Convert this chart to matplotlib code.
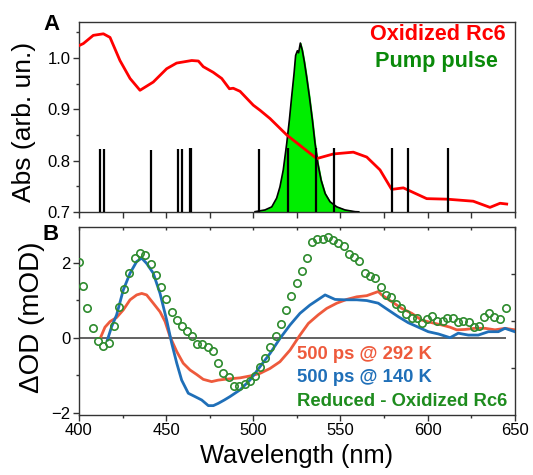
import numpy as np
import matplotlib
matplotlib.use("Agg")
import matplotlib.pyplot as plt
from matplotlib.ticker import MultipleLocator, FixedLocator

plt.rcParams['font.family'] = ['Liberation Sans', 'DejaVu Sans']

# ---------------- Panel A data ----------------
abs_wl = [400, 402.5, 408.2, 414, 417.8, 423.5, 429.3, 435, 442.6, 450.3, 456, 464.7,
          468.5, 471.3, 477, 481.9, 486.3, 488.5, 492.4, 500, 503.9, 509.6, 519.2,
          536.4, 545.9, 557.4, 565.1, 572.7, 579.4, 586.1, 591.8, 599.5, 611, 626.2,
          635.8, 641.6, 645.4]
abs_val = [1.024, 1.028, 1.044, 1.047, 1.040, 0.995, 0.960, 0.937, 0.953, 0.979, 0.990,
           0.995, 0.994, 0.983, 0.972, 0.960, 0.940, 0.941, 0.935, 0.908, 0.898, 0.882,
           0.850, 0.804, 0.813, 0.8165, 0.807, 0.782, 0.744, 0.747, 0.738, 0.726, 0.725,
           0.721, 0.709, 0.717, 0.7155]

pump_wl = [501, 506.7, 510.6, 513.4, 515.3, 517.2, 519.2, 520.7, 522, 523.4, 524.3,
           525.3, 526, 527, 528.1, 529.3, 530.6, 532.2, 533.9, 535.4, 537, 538.9,
           541.2, 544, 547.9, 552.6, 558.4, 560.5]
pump_val = [0.7006, 0.704, 0.710, 0.727, 0.749, 0.782, 0.834, 0.879, 0.924, 0.970, 1.005,
            1.014, 1.010, 1.029, 1.015, 0.992, 0.963, 0.924, 0.879, 0.834, 0.795, 0.762,
            0.736, 0.720, 0.710, 0.704, 0.7006, 0.7003]

stick_wl = [412.0, 414.5, 441.3, 457.0, 458.9, 463.7, 464.4, 503.1, 519.7, 535.8,
            546.3, 579.8, 588.8, 611.9]
stick_top = [0.822, 0.822, 0.821, 0.822, 0.822, 0.825, 0.825, 0.822, 0.824, 0.824,
             0.824, 0.824, 0.825, 0.824]
abs_base = 0.7

# ---------------- Panel B data ----------------
red_wl = [412.6, 414.9, 417.8, 421.6, 425.4, 429.3, 433.1, 436, 438.8, 442.6, 446.5,
          449.4, 452.2, 456.1, 459.8, 463.7, 467.5, 471.3, 476.1, 479.9, 483.4, 492.4,
          498.1, 503.9, 509.6, 515.3, 521.1, 526.8, 531.6, 537.3, 542.1, 547.9, 553.6,
          559.4, 565.1, 571.7, 573.7, 579.4, 585.2, 590.9, 596.6, 602.4, 608.1, 612.9,
          616.7, 621.5, 627.2, 633, 638.7, 644.4, 650]
red_val = [0.03, 0.28, 0.43, 0.54, 0.74, 1.01, 1.14, 1.18, 1.14, 0.92, 0.69, 0.43, 0.03,
           -0.37, -0.68, -0.86, -0.98, -1.11, -1.17, -1.13, -1.11, -1.07, -1.02, -0.95,
           -0.82, -0.64, -0.33, 0.07, 0.38, 0.61, 0.78, 0.92, 1.02, 1.09, 1.12, 1.23,
           1.14, 0.96, 0.78, 0.65, 0.47, 0.40, 0.34, 0.28, 0.21, 0.22, 0.25, 0.25, 0.21,
           0.25, 0.21]

blue_wl = [416.3, 418.7, 421.6, 425.4, 429.3, 433.1, 436, 438.8, 442.6, 446.5, 450.3,
           453.2, 456.1, 458.9, 462.7, 466.6, 470.4, 474.2, 477.1, 479.9, 483.4, 486.6,
           492.4, 498.1, 503.9, 509.6, 515.3, 521.1, 526.8, 532.5, 538.3, 541.2, 546.9,
           552.6, 559.4, 565.1, 571.7, 577.4, 583.2, 588.9, 594.7, 600.4, 606.2, 612.9,
           617.6, 623.4, 629.1, 634.9, 640.6, 644.4, 650]
blue_val = [-0.06, 0.29, 0.61, 1.27, 1.72, 2.03, 2.12, 1.98, 1.72, 1.18, 0.47, -0.15,
            -0.68, -1.13, -1.48, -1.57, -1.66, -1.81, -1.81, -1.75, -1.66, -1.57, -1.39,
            -1.13, -0.77, -0.42, -0.02, 0.34, 0.65, 0.87, 1.05, 1.14, 1.02, 1.01, 1.01,
            0.99, 0.92, 0.74, 0.56, 0.40, 0.28, 0.16, 0.10, 0.0, 0.12, 0.07, 0.07, 0.16,
            0.16, 0.25, 0.16]

green_wl = [400, 402.1, 404.8, 408.2, 411.1, 414, 417, 420.1, 423.1, 426, 428.9, 432.1,
            435, 438, 441.1, 444.2, 447, 449.9, 453.2, 456, 459.1, 462.1, 465, 467.7,
            470.8, 473.8, 476.7, 479.9, 482.6, 486.1, 488.7, 491.6, 495, 497.9, 501.1,
            504, 507, 509.8, 513, 515.7, 518.8, 521.6, 524.9, 527.9, 531.1, 533.9, 536.8,
            539.8, 543.1, 545.9, 548.8, 552, 554.9, 558, 560.8, 564.1, 567, 569.8, 573.1,
            576, 579, 581.9, 584.8, 587.6, 590.9, 593.8, 596.6, 599.5, 602.7, 605.6,
            608.7, 611.3, 614.4, 617.6, 620.5, 623.8, 626.6, 629.5, 632.4, 635.4, 638.3,
            641.6, 644.8]
green_val = [2.01, 1.39, 0.78, 0.25, -0.08, -0.22, -0.15, 0.31, 0.83, 1.29, 1.73, 2.12,
             2.27, 2.21, 1.97, 1.67, 1.36, 1.03, 0.69, 0.46, 0.30, 0.19, 0.04, -0.17,
             -0.16, -0.24, -0.35, -0.67, -0.93, -1.05, -1.28, -1.30, -1.23, -1.15, -1.02,
             -0.78, -0.53, -0.26, 0.05, 0.37, 0.74, 1.11, 1.45, 1.79, 2.12, 2.54, 2.63,
             2.63, 2.68, 2.61, 2.53, 2.45, 2.22, 2.14, 2.05, 1.73, 1.65, 1.60, 1.36, 1.13,
             1.09, 0.90, 0.78, 0.62, 0.52, 0.52, 0.40, 0.51, 0.58, 0.45, 0.45, 0.53, 0.52,
             0.43, 0.45, 0.43, 0.29, 0.32, 0.54, 0.65, 0.54, 0.49, 0.78]

zero_line_range = (400, 645)

# ---------------- Figure ----------------
W, H = 533, 475
fig = plt.figure(figsize=(W / 100, H / 100), dpi=100)
axA = fig.add_axes([0.1482, 0.5537, 0.8175, 0.4000])
axB = fig.add_axes([0.1482, 0.1263, 0.8175, 0.3958])

spine_col = '#333333'
for ax in (axA, axB):
    for s in ax.spines.values():
        s.set_color(spine_col)
        s.set_linewidth(1.0)
    ax.set_xlim(400, 650)

# Panel A
axA.fill_between(pump_wl, abs_base, pump_val, color='#00ee00', zorder=1)
axA.plot(pump_wl, pump_val, color='black', lw=1.2, zorder=2)
axA.plot(abs_wl, abs_val, color='#ff0000', lw=2.0, zorder=3)
axA.vlines(stick_wl, abs_base, stick_top, color='black', lw=1.6, zorder=4)
axA.set_ylim(0.7, 1.07)
axA.yaxis.set_major_locator(MultipleLocator(0.1))
axA.yaxis.set_minor_locator(MultipleLocator(0.05))
axA.xaxis.set_major_locator(MultipleLocator(25))
axA.tick_params(axis='x', which='both', direction='out', length=4, width=1,
                labelbottom=False, color=spine_col)
axA.tick_params(axis='y', which='major', direction='out', length=4, width=1,
                labelsize=12, color=spine_col, pad=2)
axA.tick_params(axis='y', which='minor', direction='out', length=2.5, width=1,
                color=spine_col)
axA.text(0.978, 0.935, 'Oxidized Rc6', transform=axA.transAxes, ha='right',
         va='center', color='#ff0000', fontsize=15.6, fontweight='bold')
axA.text(0.962, 0.791, 'Pump pulse', transform=axA.transAxes, ha='right',
         va='center', color='#0a8a0a', fontsize=15.6, fontweight='bold')

# Panel B
axB.hlines(0, zero_line_range[0], zero_line_range[1], color='#555555', lw=1.3, zorder=1)
axB.plot(red_wl, red_val, color='#ee5a3c', lw=2.0, zorder=2)
axB.plot(blue_wl, blue_val, color='#1f6fb8', lw=2.0, zorder=3)
axB.plot(green_wl, green_val, linestyle='none', marker='o', markersize=5.3,
         markerfacecolor='none', markeredgecolor='#2e8b2e', markeredgewidth=1.2, zorder=4)
axB.set_ylim(-2.06, 2.95)
axB.yaxis.set_major_locator(FixedLocator([-2, 0, 2]))
axB.yaxis.set_minor_locator(FixedLocator([-1, 1]))
axB.xaxis.set_major_locator(MultipleLocator(50))
axB.xaxis.set_minor_locator(MultipleLocator(25))
axB.tick_params(axis='both', which='major', direction='out', length=4, width=1,
                labelsize=12, color=spine_col, pad=2)
axB.tick_params(axis='both', which='minor', direction='out', length=2.5, width=1,
                color=spine_col)

# secondary scale ticks (right side, inward; top side, inward)
axR = axB.twinx()
axR.set_ylim(-1.98, 1.98)
axR.yaxis.set_major_locator(FixedLocator([-1, 0, 1]))
axR.tick_params(axis='y', direction='in', length=3, width=1, labelright=False,
                color=spine_col)
for s in axR.spines.values():
    s.set_visible(False)
axT = axB.secondary_xaxis('top')
axT.xaxis.set_major_locator(MultipleLocator(25))
axT.tick_params(axis='x', direction='in', length=2, width=1, labeltop=False,
                color=spine_col)
axT.spines['top'].set_visible(False)

axB.text(0.50, 0.324, '500 ps @ 292 K', transform=axB.transAxes, ha='left',
         va='center', color='#ee5a3c', fontsize=13.3, fontweight='bold')
axB.text(0.50, 0.197, '500 ps @ 140 K', transform=axB.transAxes, ha='left',
         va='center', color='#1f6fb8', fontsize=13.3, fontweight='bold')
axB.text(0.50, 0.074, 'Reduced - Oxidized Rc6', transform=axB.transAxes, ha='left',
         va='center', color='#1e8c1e', fontsize=13.3, fontweight='bold')

# axis labels
fig.text(24 / W, 1 - 121.5 / H, 'Abs (arb. un.)', rotation=90, ha='center',
         va='center', fontsize=19)
fig.text(31.7 / W, 1 - 317.5 / H, 'ΔOD (mOD)', rotation=90, ha='center',
         va='center', fontsize=20)
fig.text(296.9 / W, 1 - 456 / H, 'Wavelength (nm)', ha='center', va='center',
         fontsize=18.3)

fig.text(43 / W, 1 - 25 / H, 'A', ha='left', va='center', fontsize=16,
         fontweight='bold')
fig.text(43 / W, 1 - 235 / H, 'B', ha='left', va='center', fontsize=16,
         fontweight='bold')

fig.savefig('out.png', dpi=100)
